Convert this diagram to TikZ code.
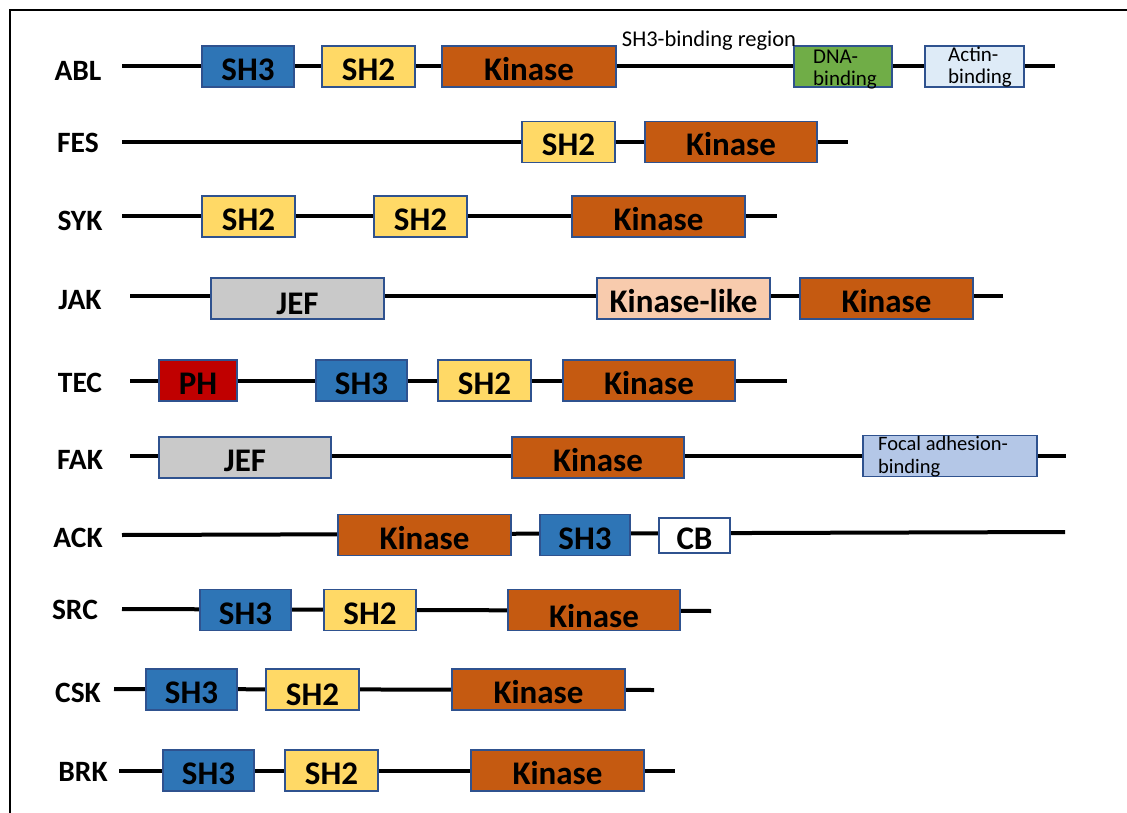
\documentclass[tikz,border=0pt]{standalone}
\usepackage{fontspec}
\setmainfont{Carlito}

\definecolor{boxline}{HTML}{2F528F}
\definecolor{sh3blue}{HTML}{2E75B6}
\definecolor{sh2yellow}{HTML}{FFD966}
\definecolor{kinorange}{HTML}{C55A11}
\definecolor{dnagreen}{HTML}{70AD47}
\definecolor{actinblue}{HTML}{DEEBF7}
\definecolor{jefgray}{HTML}{C9C9C9}
\definecolor{klpeach}{HTML}{F8CBAD}
\definecolor{phred}{HTML}{C00000}
\definecolor{fablue}{HTML}{B4C7E7}

% #1 name, #2 style, #3 left x, #4 right x, #5 text (row height in \yc)
\newcommand{\dombox}[5]{%
  \node[#2, minimum width={#4-#3}] (#1) at ({(#3+#4)/2}, \yc) {#5};}

\begin{document}
\begin{tikzpicture}[x=1pt, y=-1pt,
  backbone/.style={line width=4pt},
  protname/.style={font=\bfseries\fontsize{29.5}{29.5}\selectfont},
  dom/.style={draw=boxline, line width=1.2pt, minimum height=41pt, inner sep=0pt},
  bigdom/.style={dom, font=\bfseries\fontsize{33}{33}\selectfont,
    text height=28pt, text depth=0pt},
  smalltext/.style={anchor=north west, align=left, inner sep=0pt,
    font=\fontsize{21}{22}\selectfont},
  sh3/.style={bigdom, fill=sh3blue},
  sh2/.style={bigdom, fill=sh2yellow},
  kin/.style={bigdom, fill=kinorange},
  kinlike/.style={bigdom, fill=klpeach},
  jef/.style={bigdom, fill=jefgray},
  ph/.style={bigdom, fill=phred},
  cb/.style={bigdom, fill=white},
  dna/.style={dom, fill=dnagreen},
  actin/.style={dom, fill=actinblue},
  focal/.style={dom, fill=fablue},
  note/.style={font=\fontsize{22.5}{22.5}\selectfont}]

\useasboundingbox (0,0) rectangle (1127,813);

% frame
\draw[line width=2.5pt] (10,813) -- (10,10) -- (1127,10);

% ABL
\def\yc{66.5}
\coordinate (abl-l) at (122,\yc);
\coordinate (abl-r) at (1055,\yc);
\draw[backbone] (abl-l) -- (abl-r);
\node[protname] (abl) at (78,71) {ABL};
\dombox{abl-sh3}{sh3}{202}{294}{SH3}
\dombox{abl-sh2}{sh2}{322}{415}{SH2}
\dombox{abl-kin}{kin}{442}{616}{Kinase}
\dombox{abl-dna}{dna}{794}{892}{}
\dombox{abl-actin}{actin}{925}{1024}{}
\node[smalltext] (abl-dna-t) at (813,50) {DNA-\\binding};
\node[smalltext] (abl-actin-t) at (948,47) {Actin-\\binding};
\node[note] (abl-sh3b) at (709,41) {SH3-binding region};

% FES
\def\yc{142}
\coordinate (fes-l) at (122,\yc);
\coordinate (fes-r) at (848,\yc);
\draw[backbone] (fes-l) -- (fes-r);
\node[protname] (fes) at (78,143) {FES};
\dombox{fes-sh2}{sh2}{522}{615}{SH2}
\dombox{fes-kin}{kin}{645}{817}{Kinase}

% SYK
\def\yc{216.5}
\coordinate (syk-l) at (122,\yc);
\coordinate (syk-r) at (777,\yc);
\draw[backbone] (syk-l) -- (syk-r);
\node[protname] (syk) at (80,221) {SYK};
\dombox{syk-sh2a}{sh2}{202}{295}{SH2}
\dombox{syk-sh2b}{sh2}{374}{467}{SH2}
\dombox{syk-kin}{kin}{572}{745}{Kinase}

% JAK
\def\yc{298.5}
\coordinate (jak-l) at (130,296);
\coordinate (jak-r) at (1003,296);
\draw[backbone] (jak-l) -- (jak-r);
\node[protname] (jak) at (80,300) {JAK};
\dombox{jak-jef}{jef}{211}{384}{\raisebox{-2pt}{JEF}}
\dombox{jak-kl}{kinlike}{597}{770}{Kinase-like}
\dombox{jak-kin}{kin}{800}{973}{Kinase}

% TEC
\def\yc{380.5}
\coordinate (tec-l) at (130,\yc);
\coordinate (tec-r) at (787,\yc);
\draw[backbone] (tec-l) -- (tec-r);
\node[protname] (tec) at (80,383) {TEC};
\dombox{tec-ph}{ph}{159}{237}{PH}
\dombox{tec-sh3}{sh3}{316}{407}{SH3}
\dombox{tec-sh2}{sh2}{438}{531}{SH2}
\dombox{tec-kin}{kin}{563}{735}{Kinase}

% FAK
\def\yc{457.5}
\coordinate (fak-l) at (130,456);
\coordinate (fak-r) at (1066,456);
\draw[backbone] (fak-l) -- (fak-r);
\node[protname] (fak) at (80,460) {FAK};
\dombox{fak-jef}{jef}{159}{331}{JEF}
\dombox{fak-kin}{kin}{512}{684}{Kinase}
{\def\yc{456}
\dombox{fak-focal}{focal}{863}{1037}{}}
\node[smalltext, font=\fontsize{20.5}{23}\selectfont] (fak-focal-t) at (878,436)
  {Focal adhesion-\\binding};

% ACK
\def\yc{535}
\coordinate (ack-l) at (122,535);
\coordinate (ack-r) at (1065,532);
\draw[backbone] (ack-l) -- (ack-r);
\node[protname] (ack) at (78,538) {ACK};
\dombox{ack-kin}{kin}{338}{511}{Kinase}
\dombox{ack-sh3}{sh3}{540}{630}{SH3}
{\def\yc{535.5}
\node[cb, minimum width=71pt, minimum height=35pt] (ack-cb) at (694.5,\yc) {CB};}

% SRC
\def\yc{610}
\coordinate (src-l) at (122,609);
\coordinate (src-r) at (711,611);
\draw[backbone] (src-l) -- (src-r);
\node[protname] (src) at (75,610) {SRC};
\dombox{src-sh3}{sh3}{200}{291}{SH3}
\dombox{src-sh2}{sh2}{324}{416}{SH2}
\dombox{src-kin}{kin}{508}{680}{\raisebox{-3pt}{Kinase}}

% CSK
\def\yc{689.5}
\coordinate (csk-l) at (114,689);
\coordinate (csk-r) at (654,690);
\draw[backbone] (csk-l) -- (csk-r);
\node[protname] (csk) at (78,693) {CSK};
\dombox{csk-sh3}{sh3}{146}{237}{SH3}
\dombox{csk-sh2}{sh2}{266}{359}{\raisebox{-2pt}{SH2}}
\dombox{csk-kin}{kin}{452}{625}{Kinase}

% BRK
\def\yc{770.5}
\coordinate (brk-l) at (119,771);
\coordinate (brk-r) at (675,771);
\draw[backbone] (brk-l) -- (brk-r);
\node[protname] (brk) at (83,772) {BRK};
\dombox{brk-sh3}{sh3}{163}{254}{SH3}
\dombox{brk-sh2}{sh2}{285}{378}{SH2}
\dombox{brk-kin}{kin}{471}{644}{Kinase}

\end{tikzpicture}
\end{document}
